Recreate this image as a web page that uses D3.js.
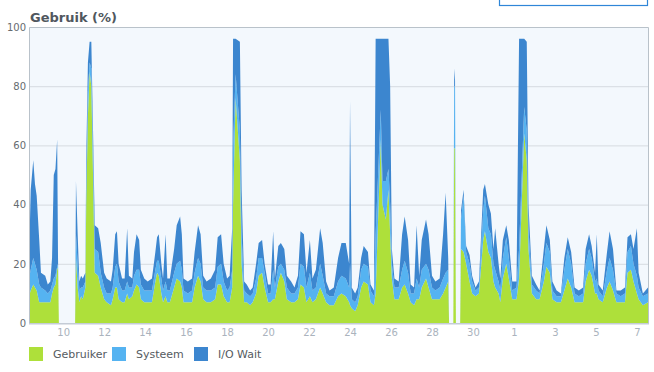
<!DOCTYPE html>
<html><head><meta charset="utf-8">
<script src="https://cdn.jsdelivr.net/npm/d3@7"></script>
<style>body{margin:0;background:#fff;}svg{display:block;font-family:"DejaVu Sans",Verdana,sans-serif;}</style>
</head><body><svg id="c" width="654" height="372"></svg>
<script>
// ---- data ----
const startDate = new Date(2013, 6, 8, 8, 0); // first sample
const hours = [0,2,5,7,9,12,14,19,22,25,27,29,31,33,34,35,54,55,57,59,61,63,66,67,69,71,73,75,77,81,84,88,91,96,98,101,103,105,109,112,115,117,121,123,126,129,131,135,139,144,148,150,152,155,157,160,162,165,170,173,177,179,181,186,191,194,198,201,204,208,213,218,221,225,228,232,235,238,239,242,247,249,252,255,259,262,266,269,273,276,280,283,286,288,292,295,299,302,307,311,315,318,322,325,329,332,336,341,344,348,352,357,362,366,371,375,376,378,382,385,389,392,397,400,404,406,412,414,418,421,423,425,428,433,437,440,444,447,451,454,457,460,465,468,472,476,481,485,488,491,492,497,498,499,500,505,506,509,512,516,519,523,527,532,534,538,541,544,546,550,552,555,559,562,566,571,574,580,583,585,589,594,598,603,606,610,613,618,623,627,631,635,639,644,649,652,656,659,663,665,667,672,677,680,684,688,693,698,701,705,708,712,714,719,725];
const gebruiker = [9,11,13,12,11,7,7,7,7,7,10,12,13,18,19,0,0,22,12,7,9,8,12,40,70,85,80,50,17,16,12,8,7,6,8,12,12,8,7,7,10,8,9,11,13,12,8,7,7,7,14,17,16,10,7,9,7,7,12,15,14,12,7,7,7,12,16,14,8,7,7,8,13,13,9,7,7,12,40,76,55,20,7,7,6,7,10,16,17,12,7,7,8,8,14,17,14,8,7,7,8,13,12,7,9,7,8,12,10,7,6,6,9,10,9,7,6,5,4,6,12,14,13,7,6,10,62,40,35,45,30,15,8,8,12,13,10,7,6,8,8,12,15,12,8,8,8,10,12,14,0,0,59,59,0,0,25,24,20,14,10,9,10,28,31,24,22,14,12,10,7,15,20,15,8,8,15,64,55,25,10,8,8,14,19,17,8,7,7,11,15,12,7,7,7,14,18,16,10,10,8,7,12,14,11,7,7,7,17,18,14,10,8,6,7];
const systeem = [6,7,9,8,7,6,5,4,3,4,3,3,3,1,1,0,0,8,8,4,3,4,2,5,8,3,6,8,8,8,5,4,3,4,4,7,8,6,4,4,4,4,3,5,5,6,5,4,4,4,4,4,5,5,4,5,4,4,5,5,7,6,4,3,4,5,6,6,4,4,4,4,6,7,5,4,5,6,20,8,10,10,4,3,3,3,5,6,5,5,3,3,10,4,5,3,4,4,3,3,4,7,7,5,8,4,4,8,6,3,3,3,5,6,6,5,14,3,3,3,6,6,6,4,3,20,10,8,13,7,10,5,4,4,6,8,7,3,4,7,4,6,5,6,4,3,4,5,5,4,0,0,21,21,0,0,10,19,4,6,4,2,2,10,12,8,8,6,6,4,4,7,9,7,3,4,10,9,10,7,3,3,2,6,8,7,3,2,2,7,10,8,3,2,3,6,7,6,4,5,3,2,6,8,7,3,2,3,7,8,6,6,4,3,3];
const ioWait = [5,27,33,27,25,15,5,5,3,3,9,35,36,43,2,0,0,18,10,3,4,3,3,10,10,7,9,7,8,8,10,5,5,4,6,11,11,6,4,4,18,4,3,8,12,10,5,4,3,4,6,8,9,5,4,16,4,4,8,13,15,12,4,4,4,7,11,10,4,3,4,6,10,10,6,4,4,14,36,12,30,15,3,3,2,2,5,5,6,3,3,3,13,3,7,7,7,4,4,2,4,11,11,5,11,4,6,12,11,4,2,3,8,11,12,8,55,4,3,3,4,6,5,2,2,66,24,48,48,44,40,5,3,2,12,15,11,3,2,18,4,10,15,12,4,3,3,15,27,4,0,0,6,2,0,0,3,2,2,3,2,1,2,7,4,8,7,5,14,6,4,6,4,6,3,2,71,23,30,8,3,2,1,5,6,4,3,2,1,4,4,4,2,2,2,5,5,4,3,15,2,2,6,9,7,1,2,2,5,4,5,16,5,1,2];
const seriesNames = ["Gebruiker", "Systeem", "I/O Wait"];
const yTicks = [0, 20, 40, 60, 80, 100];
const xTickDates = ["2013-07-10","2013-07-12","2013-07-14","2013-07-16","2013-07-18","2013-07-20","2013-07-22","2013-07-24","2013-07-26","2013-07-28","2013-07-30","2013-08-01","2013-08-03","2013-08-05","2013-08-07"];
const title = "Gebruik (%)";

// ---- styles ----
const colors = ["#aee03a", "#55b3f1", "#3c86cf"];
const L = 29, R = 648, T = 27, B = 323;

const svg = d3.select("#c");
const rows = hours.map((h, i) => ({
  date: d3.timeHour.offset(startDate, h),
  "Gebruiker": gebruiker[i], "Systeem": systeem[i], "I/O Wait": ioWait[i]
}));
const x = d3.scaleTime().domain([startDate, d3.timeHour.offset(startDate, hours[hours.length-1])]).range([L, R]);
const y = d3.scaleLinear().domain([0, 100]).range([B, T]);

// top-right box
svg.append("rect").attr("x", 499.5).attr("y", -10).attr("width", 148).attr("height", 15.5)
  .attr("fill", "#fff").attr("stroke", "#2f86d8").attr("stroke-width", 1.2);

svg.append("text").attr("x", 30).attr("y", 22).attr("font-size", 13).attr("font-weight", "bold")
  .attr("fill", "#50575e").text(title);

svg.append("rect").attr("x", L).attr("y", T).attr("width", R - L).attr("height", B - T).attr("fill", "#f3f8fd");

svg.append("g").selectAll("line").data(yTicks.filter(d => d > 0 && d < 100)).join("line")
  .attr("x1", L).attr("x2", R).attr("y1", d => y(d) + 0.5).attr("y2", d => y(d) + 0.5)
  .attr("stroke", "#d6dbe0").attr("stroke-width", 1);

const stack = d3.stack().keys(seriesNames)(rows);
const area = d3.area().x(d => x(d.data.date)).y0(d => y(d[0])).y1(d => y(d[1]));
svg.append("g").selectAll("path").data(stack).join("path")
  .attr("d", area).attr("fill", (d, i) => colors[i]);

// frame
svg.append("path").attr("d", `M${L+0.5},${B}V${T+0.5}H${R+0.5}V${B}`).attr("fill", "none")
  .attr("stroke", "#b9c2ca").attr("stroke-width", 1);
svg.append("line").attr("x1", L).attr("x2", R + 1).attr("y1", B + 0.75).attr("y2", B + 0.75)
  .attr("stroke", "#c4ccd6").attr("stroke-width", 1.5);

// y axis labels
const yAxis = d3.axisLeft(y).tickValues(yTicks).tickSize(0).tickPadding(0);
const gy = svg.append("g").attr("transform", `translate(${L - 3},0)`).call(yAxis);
gy.select(".domain").remove();
gy.selectAll("text").attr("font-size", 10).attr("fill", "#666b70").attr("font-family", "DejaVu Sans");

// x axis labels
const parse = d3.timeParse("%Y-%m-%d");
const xAxis = d3.axisBottom(x).tickValues(xTickDates.map(parse)).tickFormat(d3.timeFormat("%-d")).tickSize(0).tickPadding(6);
const gx = svg.append("g").attr("transform", `translate(0,${B})`).call(xAxis);
gx.select(".domain").remove();
gx.selectAll("text").attr("font-size", 10).attr("fill", "#aab3bd").attr("font-family", "DejaVu Sans");

// legend
const leg = svg.append("g").attr("transform", "translate(29,347)");
const offs = [0, 83, 165];
seriesNames.forEach((n, i) => {
  leg.append("rect").attr("x", offs[i]).attr("y", 0).attr("width", 14).attr("height", 14).attr("fill", colors[i]);
  leg.append("text").attr("x", offs[i] + 24).attr("y", 11).attr("font-size", 11).attr("fill", "#555b61").text(n);
});
</script></body></html>
